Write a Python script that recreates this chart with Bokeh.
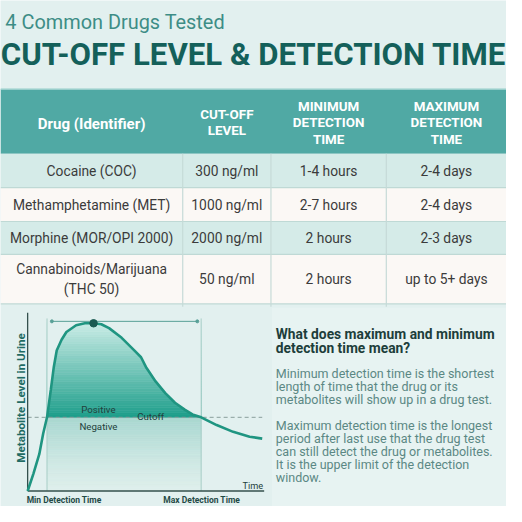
import numpy as np
from bokeh.plotting import figure
from bokeh.models import Range1d
from bokeh.core.properties import value
from bokeh.embed import file_html
from bokeh.resources import INLINE

# ---------------- data ----------------
subtitle = "4 Common Drugs Tested"
title = "CUT-OFF LEVEL & DETECTION TIME"
headers = ["Drug (Identifier)", "CUT-OFF\nLEVEL", "MINIMUM\nDETECTION\nTIME", "MAXIMUM\nDETECTION\nTIME"]
drugs = ["Cocaine (COC)", "Methamphetamine (MET)", "Morphine (MOR/OPI 2000)", "Cannabinoids/Marijuana\n(THC 50)"]
cutoff_levels = ["300 ng/ml", "1000 ng/ml", "2000 ng/ml", "50 ng/ml"]
min_detection = ["1-4 hours", "2-7 hours", "2 hours", "2 hours"]
max_detection = ["2-4 days", "2-4 days", "2-3 days", "up to 5+ days"]

# schematic metabolite curve (time units, level units)
curve_time = [0, 6, 12, 16, 20, 24, 27, 30, 35, 40, 50, 59, 68, 76, 84, 97, 110, 117, 122, 132, 142, 152, 162, 170, 179, 195, 212, 229, 242]
curve_level = [0, 18, 38, 59, 76, 105, 128, 145, 156, 164, 171, 173, 173, 172, 168, 158, 145, 138, 128, 113, 101, 91, 84, 79, 76, 68, 61, 56, 54]
cutoff_value = 76
min_det_time = 20
max_det_time = 179
peak_time = 68
peak_level = 173
axis_top = 184
axis_end = 244

question = ["What does maximum and minimum", "detection time mean?"]
para1 = ["Minimum detection time is the shortest",
         "length of time that the drug or its",
         "metabolites will show up in a drug test."]
para2 = ["Maximum detection time is the longest",
         "period after last use that the drug test",
         "can still detect the drug or metabolites.",
         "It is the upper limit of the detection",
         "window."]

# ---------------- style ----------------
W = H = 506
S = W / 522.0
FONT = value("Roboto")
BG = "#e2f0ef"
PANEL = "#e7f3f2"


def fs(v):
    return value(f"{v * S:.1f}px")


def lerp(c1, c2, f):
    a = np.array([int(c1[i:i + 2], 16) for i in (1, 3, 5)], float)
    b = np.array([int(c2[i:i + 2], 16) for i in (1, 3, 5)], float)
    c = a + (b - a) * f
    return "#%02x%02x%02x" % tuple(int(round(v)) for v in c)


p = figure(width=W, height=H, x_range=Range1d(0, 522), y_range=Range1d(522, 0),
           output_backend="svg", toolbar_location=None, min_border=0,
           x_axis_type=None, y_axis_type=None)
p.outline_line_color = None
p.background_fill_color = BG
p.border_fill_color = BG
p.extra_x_ranges = {"t": Range1d(-28, 494)}
p.extra_y_ranges = {"lvl": Range1d(-16, 506)}

# ---------------- titles ----------------
p.text(x=[5], y=[23], text=[subtitle], text_font=FONT, text_font_size=fs(20.5),
       text_color="#3d8d86", text_baseline="middle", text_align="left")
p.text(x=[261], y=[56], text=[title], text_font=FONT, text_font_size=fs(32.2),
       text_font_style="bold", text_color="#14605a", text_baseline="middle", text_align="center")

# ---------------- table ----------------
col_edges = [0, 188, 279, 398, 522]
row_edges = [158, 193, 228, 262, 313]
col_centers = [(col_edges[i] + col_edges[i + 1]) / 2 for i in range(4)]
row_centers = [(row_edges[i] + row_edges[i + 1]) / 2 for i in range(4)]

p.quad(left=[0], right=[522], top=[91], bottom=[158], fill_color="#50a9a4", line_color=None)
p.segment(x0=[0], x1=[522], y0=[91.5], y1=[91.5], line_color="#b9e0dc", line_width=1)
row_colors = ["#d5ebe8", "#fbf8f5", "#d5ebe8", "#fbf8f5"]
p.quad(left=[0] * 4, right=[522] * 4, top=row_edges[:-1], bottom=row_edges[1:],
       fill_color=row_colors, line_color=None)
p.segment(x0=[0] * 4, x1=[522] * 4, y0=row_edges[1:], y1=row_edges[1:],
          line_color="#bfd9d5", line_width=1.2)
p.segment(x0=col_edges[1:4], x1=col_edges[1:4], y0=[158] * 3, y1=[316] * 3,
          line_color="#c6dad7", line_width=1.2)

hdr_kw = dict(text_font=FONT, text_font_style="bold", text_color="#ffffff",
              text_align="center", text_baseline="middle", text_line_height=1.1)
p.text(x=[col_centers[0]], y=[127], text=[headers[0]], text_font_size=fs(15.5), **hdr_kw)
p.text(x=col_centers[1:], y=[126, 126, 126], text=headers[1:], text_font_size=fs(13.8), **hdr_kw)

cell_kw = dict(text_font=FONT, text_font_size=fs(14.2), text_color="#3b3b3b",
               text_align="center", text_baseline="middle")
p.text(x=[col_centers[0]] * 4, y=row_centers, text=drugs, text_line_height=1.28, **cell_kw)
p.text(x=[col_centers[1]] * 4, y=row_centers, text=cutoff_levels, **cell_kw)
p.text(x=[col_centers[2]] * 4, y=row_centers, text=min_detection, **cell_kw)
p.text(x=[col_centers[3]] * 4, y=row_centers, text=max_detection, **cell_kw)

# ---------------- explanation panel ----------------
p.quad(left=[280], right=[522], top=[317], bottom=[522], fill_color=PANEL, line_color=None)
p.text(x=[284] * 2, y=[344, 358.5], text=question, text_font=FONT, text_font_size=fs(14.2),
       text_font_style="bold", text_color="#1d3e3b", text_baseline="middle")
p.text(x=[284] * 3, y=[385, 398.5, 412], text=para1, text_font=FONT, text_font_size=fs(12.9),
       text_color="#5b8884", text_baseline="middle")
p.text(x=[284] * 5, y=[438, 451.5, 465, 478.5, 492], text=para2, text_font=FONT,
       text_font_size=fs(12.9), text_color="#5b8884", text_baseline="middle")

# ---------------- detection chart ----------------
ck = dict(x_range_name="t", y_range_name="lvl")
ct = np.array(curve_time, float)
cl = np.array(curve_level, float)

# negative zone gradient
nb = 40
neg_edges = np.linspace(0, cutoff_value, nb + 1)
neg_cols = [lerp("#deefec", "#a8d7d0", ((i + 0.5) / nb) ** 1.3) for i in range(nb)]
p.quad(left=min_det_time, right=max_det_time, bottom=neg_edges[:-1], top=neg_edges[1:],
       fill_color=neg_cols, line_color=neg_cols, line_width=0.6, **ck)

# positive zone gradient (then masked above the curve)
pos_edges = np.linspace(cutoff_value, peak_level + 1, nb + 1)
pos_cols = [lerp("#1e9e8b", "#cbede7", (i + 0.5) / nb) for i in range(nb)]
p.quad(left=min_det_time, right=max_det_time, bottom=pos_edges[:-1], top=pos_edges[1:],
       fill_color=pos_cols, line_color=pos_cols, line_width=0.6, **ck)
sel = (ct >= min_det_time) & (ct <= max_det_time)
p.varea(x=ct[sel], y1=cl[sel], y2=peak_level + 3, fill_color=BG, **ck)

# reference lines
p.segment(x0=[min_det_time, max_det_time], x1=[min_det_time, max_det_time], y0=[0, 0],
          y1=[178, 178], line_color="#a9cec8", line_width=1, **ck)
p.segment(x0=[0], x1=[axis_end - 2], y0=[cutoff_value], y1=[cutoff_value],
          line_color="#8a9f9c", line_width=1, line_dash="4 3", **ck)
p.segment(x0=[25], x1=[175], y0=[175], y1=[175], line_color="#58a097", line_width=1, **ck)
p.scatter(x=[25, 175], y=[175, 175], size=3, color="#58a097", **ck)

# axes
p.segment(x0=[0, 0], x1=[0, axis_end], y0=[0, 0], y1=[axis_top, 0],
          line_color="#34504d", line_width=1.3, **ck)

# curve and peak
p.line(x=ct, y=cl, line_color="#1f9581", line_width=2.6, **ck)
p.scatter(x=[peak_time], y=[peak_level], size=7.5, color="#1b5a52", **ck)

# chart labels
lab = dict(text_font=FONT, text_color="#223f3c", text_baseline="middle", **ck)
p.text(x=[73, 73], y=[84, 67], text=["Positive", "Negative"], text_font_size=fs(10),
       text_align="center", **lab)
p.text(x=[113], y=[77], text=["Cutoff"], text_font_size=fs(10), text_align="left", **lab)
p.text(x=[243], y=[6], text=["Time"], text_font_size=fs(9.5), text_align="right", **lab)
p.text(x=[-1, 140], y=[-9, -9], text=["Min Detection Time", "Max Detection Time"],
       text_font_size=fs(8.8), text_font_style="bold", text_align="left",
       text_font=FONT, text_color="#1f4a46", text_baseline="middle", **ck)
p.text(x=[21], y=[410], text=["Metabolite Level in Urine"], angle=np.pi / 2,
       text_font=FONT, text_font_size=fs(12), text_font_style="bold",
       text_color="#1f6b63", text_align="center", text_baseline="middle")

open("out.html", "w").write(file_html(p, INLINE))
